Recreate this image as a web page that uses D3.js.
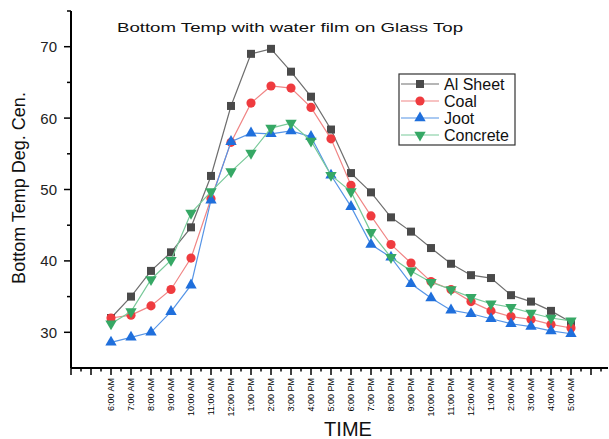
<!DOCTYPE html>
<html>
<head>
<meta charset="utf-8">
<script src="https://cdn.jsdelivr.net/npm/d3@7"></script>
<style>
  body { margin: 0; background: #fff; }
  text { font-family: Arial, "Liberation Sans", sans-serif; }
</style>
</head>
<body>
<svg id="chart" width="609" height="439"></svg>
<script>
var times = ['6:00 AM', '7:00 AM', '8:00 AM', '9:00 AM', '10:00 AM', '11:00 AM',
  '12:00 PM', '1:00 PM', '2:00 PM', '3:00 PM', '4:00 PM', '5:00 PM',
  '6:00 PM', '7:00 PM', '8:00 PM', '9:00 PM', '10:00 PM', '11:00 PM',
  '12:00 AM', '1:00 AM', '2:00 AM', '3:00 AM', '4:00 AM', '5:00 AM'];

var alSheet = [32.0, 35.0, 38.6, 41.2, 44.7, 51.9, 61.7, 69.0, 69.7, 66.5, 63.0, 58.4,
  52.3, 49.6, 46.1, 44.1, 41.8, 39.6, 38.0, 37.6, 35.2, 34.3, 33.0, 31.4];
var coal = [32.0, 32.4, 33.7, 36.0, 40.4, 48.7, 56.6, 62.1, 64.5, 64.2, 61.5, 57.1,
  50.6, 46.3, 42.3, 39.7, 37.1, 36.0, 34.3, 33.0, 32.2, 31.8, 31.1, 30.6];
var joot = [28.6, 29.3, 30.0, 32.9, 36.6, 48.5, 56.7, 57.9, 57.8, 58.2, 57.4, 52.0,
  47.6, 42.3, 40.5, 36.8, 34.8, 33.1, 32.6, 31.9, 31.2, 30.8, 30.2, 29.8];
var concrete = [31.2, 32.9, 37.4, 40.1, 46.7, 49.7, 52.5, 55.1, 58.6, 59.3, 56.8, 52.0,
  49.7, 44.0, 40.5, 38.6, 37.0, 36.0, 34.9, 34.0, 33.5, 32.7, 32.0, 31.6];

var seriesNames = ['Al Sheet', 'Coal', 'Joot', 'Concrete'];
var yTicks = [30, 40, 50, 60, 70];

var series = [
  {name: seriesNames[0], values: alSheet, symbol: d3.symbolSquare, size: 64, fill: '#4a4a4a', line: '#6e6e6e'},
  {name: seriesNames[1], values: coal, symbol: d3.symbolCircle, size: 66, fill: '#ef3b3f', line: '#f08585'},
  {name: seriesNames[2], values: joot, symbol: d3.symbolTriangle, size: 56, fill: '#1f6fdc', line: '#5594e6'},
  {name: seriesNames[3], values: concrete, symbol: d3.symbolTriangle, size: 56, fill: '#36a865', line: '#78c999', flip: true}
];

var svg = d3.select('#chart');

var x = d3.scaleLinear().domain([-2, 24.85]).range([71, 608]);
var y = d3.scaleLinear().domain([25, 75]).range([368, 11]);

// y axis
var yAxis = svg.append('g').attr('transform', 'translate(71,0)');
yAxis.append('line').attr('x1', 0).attr('x2', 0).attr('y1', y(75)).attr('y2', y(25))
  .attr('stroke', '#000').attr('stroke-width', 2);
yAxis.selectAll('line.major').data(yTicks).enter().append('line')
  .attr('x1', -7).attr('x2', 0).attr('y1', function(d){ return y(d); }).attr('y2', function(d){ return y(d); })
  .attr('stroke', '#000').attr('stroke-width', 1.5);
yAxis.selectAll('line.minor').data([35, 45, 55, 65, 75]).enter().append('line')
  .attr('x1', -4).attr('x2', 0).attr('y1', function(d){ return y(d); }).attr('y2', function(d){ return y(d); })
  .attr('stroke', '#000').attr('stroke-width', 1.5);
yAxis.selectAll('text').data(yTicks).enter().append('text')
  .attr('x', -14).attr('y', function(d){ return y(d); }).attr('dy', '0.36em')
  .attr('text-anchor', 'end').attr('font-size', 15).attr('fill', '#222')
  .text(function(d){ return d; });

// x axis
var xAxis = svg.append('g').attr('transform', 'translate(0,368)');
xAxis.append('line').attr('x1', 71).attr('x2', 608).attr('y1', 0).attr('y2', 0)
  .attr('stroke', '#000').attr('stroke-width', 2);
var majors = d3.range(-2, 25);
xAxis.selectAll('line.major').data(majors).enter().append('line')
  .attr('x1', function(d){ return x(d); }).attr('x2', function(d){ return x(d); })
  .attr('y1', 0).attr('y2', 7).attr('stroke', '#000').attr('stroke-width', 1.5);
xAxis.selectAll('line.minor').data(majors.map(function(d){ return d + 0.5; })).enter().append('line')
  .attr('x1', function(d){ return x(d); }).attr('x2', function(d){ return x(d); })
  .attr('y1', 0).attr('y2', 3.5).attr('stroke', '#000').attr('stroke-width', 1.5);
xAxis.selectAll('text').data(times).enter().append('text')
  .attr('transform', function(d, i){ return 'translate(' + x(i) + ',10) rotate(-90)'; })
  .attr('dy', '0.35em').attr('text-anchor', 'end').attr('font-size', 9).attr('fill', '#000')
  .text(function(d){ return d; });

// axis titles
svg.append('text').attr('transform', 'translate(25,188) rotate(-90)')
  .attr('text-anchor', 'middle').attr('font-size', 18).attr('fill', '#111')
  .text('Bottom Temp Deg. Cen.');
svg.append('text').attr('x', 348).attr('y', 436)
  .attr('text-anchor', 'middle').attr('font-size', 20).attr('fill', '#111')
  .text('TIME');

// title
svg.append('text').attr('x', 117).attr('y', 32)
  .attr('font-size', 13).attr('fill', '#111')
  .attr('textLength', 346).attr('lengthAdjust', 'spacingAndGlyphs')
  .text('Bottom  Temp with water film on Glass Top');

// series
var lineGen = d3.line()
  .x(function(d, i){ return x(i); })
  .y(function(d){ return y(d); });

series.forEach(function(s){
  var g = svg.append('g');
  g.append('path').datum(s.values).attr('d', lineGen)
    .attr('fill', 'none').attr('stroke', s.line).attr('stroke-width', 1.2);
  g.selectAll('path.pt').data(s.values).enter().append('path')
    .attr('d', d3.symbol().type(s.symbol).size(s.size))
    .attr('transform', function(d, i){
      return 'translate(' + x(i) + ',' + y(d) + ')' + (s.flip ? ' rotate(180)' : '');
    })
    .attr('fill', s.fill);
});

// legend
var legend = svg.append('g').attr('transform', 'translate(399,74)');
legend.append('rect').attr('x', 0).attr('y', 0).attr('width', 116).attr('height', 71)
  .attr('fill', '#fff').attr('stroke', '#333').attr('stroke-width', 1.2);
series.forEach(function(s, i){
  var row = legend.append('g').attr('transform', 'translate(0,' + (10 + i * 17) + ')');
  row.append('line').attr('x1', 2).attr('x2', 40).attr('y1', 0).attr('y2', 0)
    .attr('stroke', s.line).attr('stroke-width', 1.2);
  row.append('path').attr('d', d3.symbol().type(s.symbol).size(s.size))
    .attr('transform', 'translate(21,0)' + (s.flip ? ' rotate(180)' : ''))
    .attr('fill', s.fill);
  row.append('text').attr('x', 45).attr('y', 0).attr('dy', '0.36em')
    .attr('font-size', 16).attr('fill', '#111').text(s.name);
});
</script>
</body>
</html>
